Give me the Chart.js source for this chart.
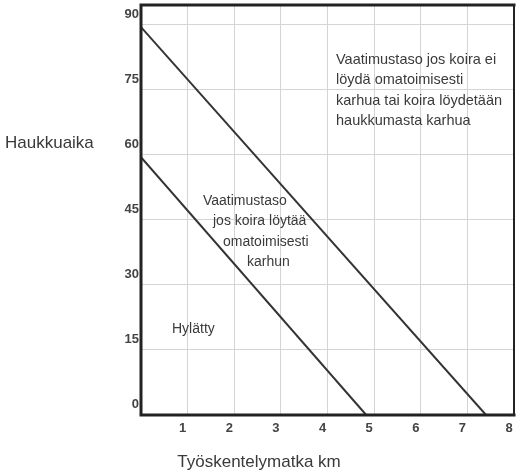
<!DOCTYPE html>
<html>
<head>
<meta charset="utf-8">
<script src="https://cdn.jsdelivr.net/npm/chart.js@4"></script>
<style>
  body { margin: 0; background: #fff; }
  #wrap { width: 516px; height: 473px; position: relative; }
</style>
</head>
<body>
<div id="wrap"><canvas id="chartHaukku"></canvas></div>
<script>
// Rajakäyrät (x = työskentelymatka km, y = haukkuaika)
const matkaYla = [0, 7.4];
const aikaYla = [89.5, 0];
const matkaAla = [0, 4.83];
const aikaAla = [59.5, 0];

// Akselien jaotus
const xTicks = [1, 2, 3, 4, 5, 6, 7, 8];
const yTicks = [0, 15, 30, 45, 60, 75, 90];

// Tekstit
const yTitle = 'Haukkuaika';
const xTitle = 'Työskentelymatka km';
const ylaTeksti = ['Vaatimustaso jos koira ei', 'löydä omatoimisesti', 'karhua tai koira löydetään', 'haukkumasta karhua'];
const alaTeksti = ['Vaatimustaso', 'jos koira löytää', 'omatoimisesti', 'karhun'];
const hylattyTeksti = 'Hylätty';

const toPoints = (xs, ys) => xs.map((x, i) => ({ x, y: ys[i] }));

Chart.defaults.font.family = '"Liberation Sans", Arial, sans-serif';
Chart.defaults.color = '#333';

// Kehys ja tekstit
const tekstit = {
  id: 'tekstit',
  afterDraw(chart) {
    const ctx = chart.ctx;
    const a = chart.chartArea;
    ctx.save();
    ctx.strokeStyle = '#222';
    ctx.lineCap = 'square';
    ctx.lineWidth = 3;
    ctx.beginPath();
    ctx.moveTo(a.right, a.top); ctx.lineTo(a.left, a.top);
    ctx.lineTo(a.left, a.bottom); ctx.lineTo(a.right, a.bottom);
    ctx.stroke();
    ctx.lineWidth = 2;
    ctx.beginPath();
    ctx.moveTo(a.right, a.top); ctx.lineTo(a.right, a.bottom);
    ctx.stroke();

    ctx.fillStyle = '#3a3a3a';
    ctx.textBaseline = 'middle';
    ctx.textAlign = 'left';
    ctx.font = '17px "Liberation Sans", Arial, sans-serif';
    ctx.fillText(yTitle, 5, 143);
    ctx.textAlign = 'center';
    ctx.fillText(xTitle, 259, 462);

    ctx.textAlign = 'left';
    ctx.font = '14.5px "Liberation Sans", Arial, sans-serif';
    ylaTeksti.forEach((t, i) => ctx.fillText(t, 336, 60 + i * 20.4));

    ctx.font = '14px "Liberation Sans", Arial, sans-serif';
    const alaX = [203, 213, 223, 247];
    alaTeksti.forEach((t, i) => ctx.fillText(t, alaX[i], 201 + i * 20.4));
    ctx.fillText(hylattyTeksti, 172, 329);
    ctx.restore();
  }
};

const ctx = document.getElementById('chartHaukku').getContext('2d');
new Chart(ctx, {
  type: 'scatter',
  data: {
    datasets: [
      {
        label: 'Ylempi raja',
        data: toPoints(matkaYla, aikaYla),
        showLine: true,
        borderColor: '#333',
        borderWidth: 2,
        pointRadius: 0
      },
      {
        label: 'Alempi raja',
        data: toPoints(matkaAla, aikaAla),
        showLine: true,
        borderColor: '#333',
        borderWidth: 2,
        pointRadius: 0
      }
    ]
  },
  options: {
    responsive: true,
    maintainAspectRatio: false,
    animation: false,
    layout: { padding: { top: 5, right: 2, left: 0, bottom: 0 } },
    plugins: {
      legend: { display: false },
      tooltip: { enabled: false }
    },
    scales: {
      x: {
        type: 'linear',
        min: 0,
        max: 8,
        afterBuildTicks: (scale) => { scale.ticks = xTicks.map(v => ({ value: v })); },
        afterFit: (scale) => {
          scale.height = 58;
          scale.paddingLeft = 0;
          scale.paddingRight = 0;
        },
        grid: { color: '#d4d4d4', lineWidth: 1, drawTicks: false },
        border: { display: false },
        ticks: {
          padding: 6,
          labelOffset: -5,
          maxRotation: 0,
          font: { size: 13, weight: 'bold' },
          color: '#444',
          callback: (v) => String(v)
        }
      },
      y: {
        type: 'linear',
        min: 0,
        max: 94.6,
        afterBuildTicks: (scale) => { scale.ticks = yTicks.map(v => ({ value: v })); },
        afterFit: (scale) => {
          scale.width = 141;
          scale.paddingTop = 0;
          scale.paddingBottom = 0;
        },
        grid: { color: '#d4d4d4', lineWidth: 1, drawTicks: false },
        border: { display: false },
        ticks: {
          padding: 2,
          labelOffset: -11,
          font: { size: 13, weight: 'bold' },
          color: '#444',
          callback: (v) => String(v)
        }
      }
    }
  },
  plugins: [tekstit]
});
</script>
</body>
</html>
